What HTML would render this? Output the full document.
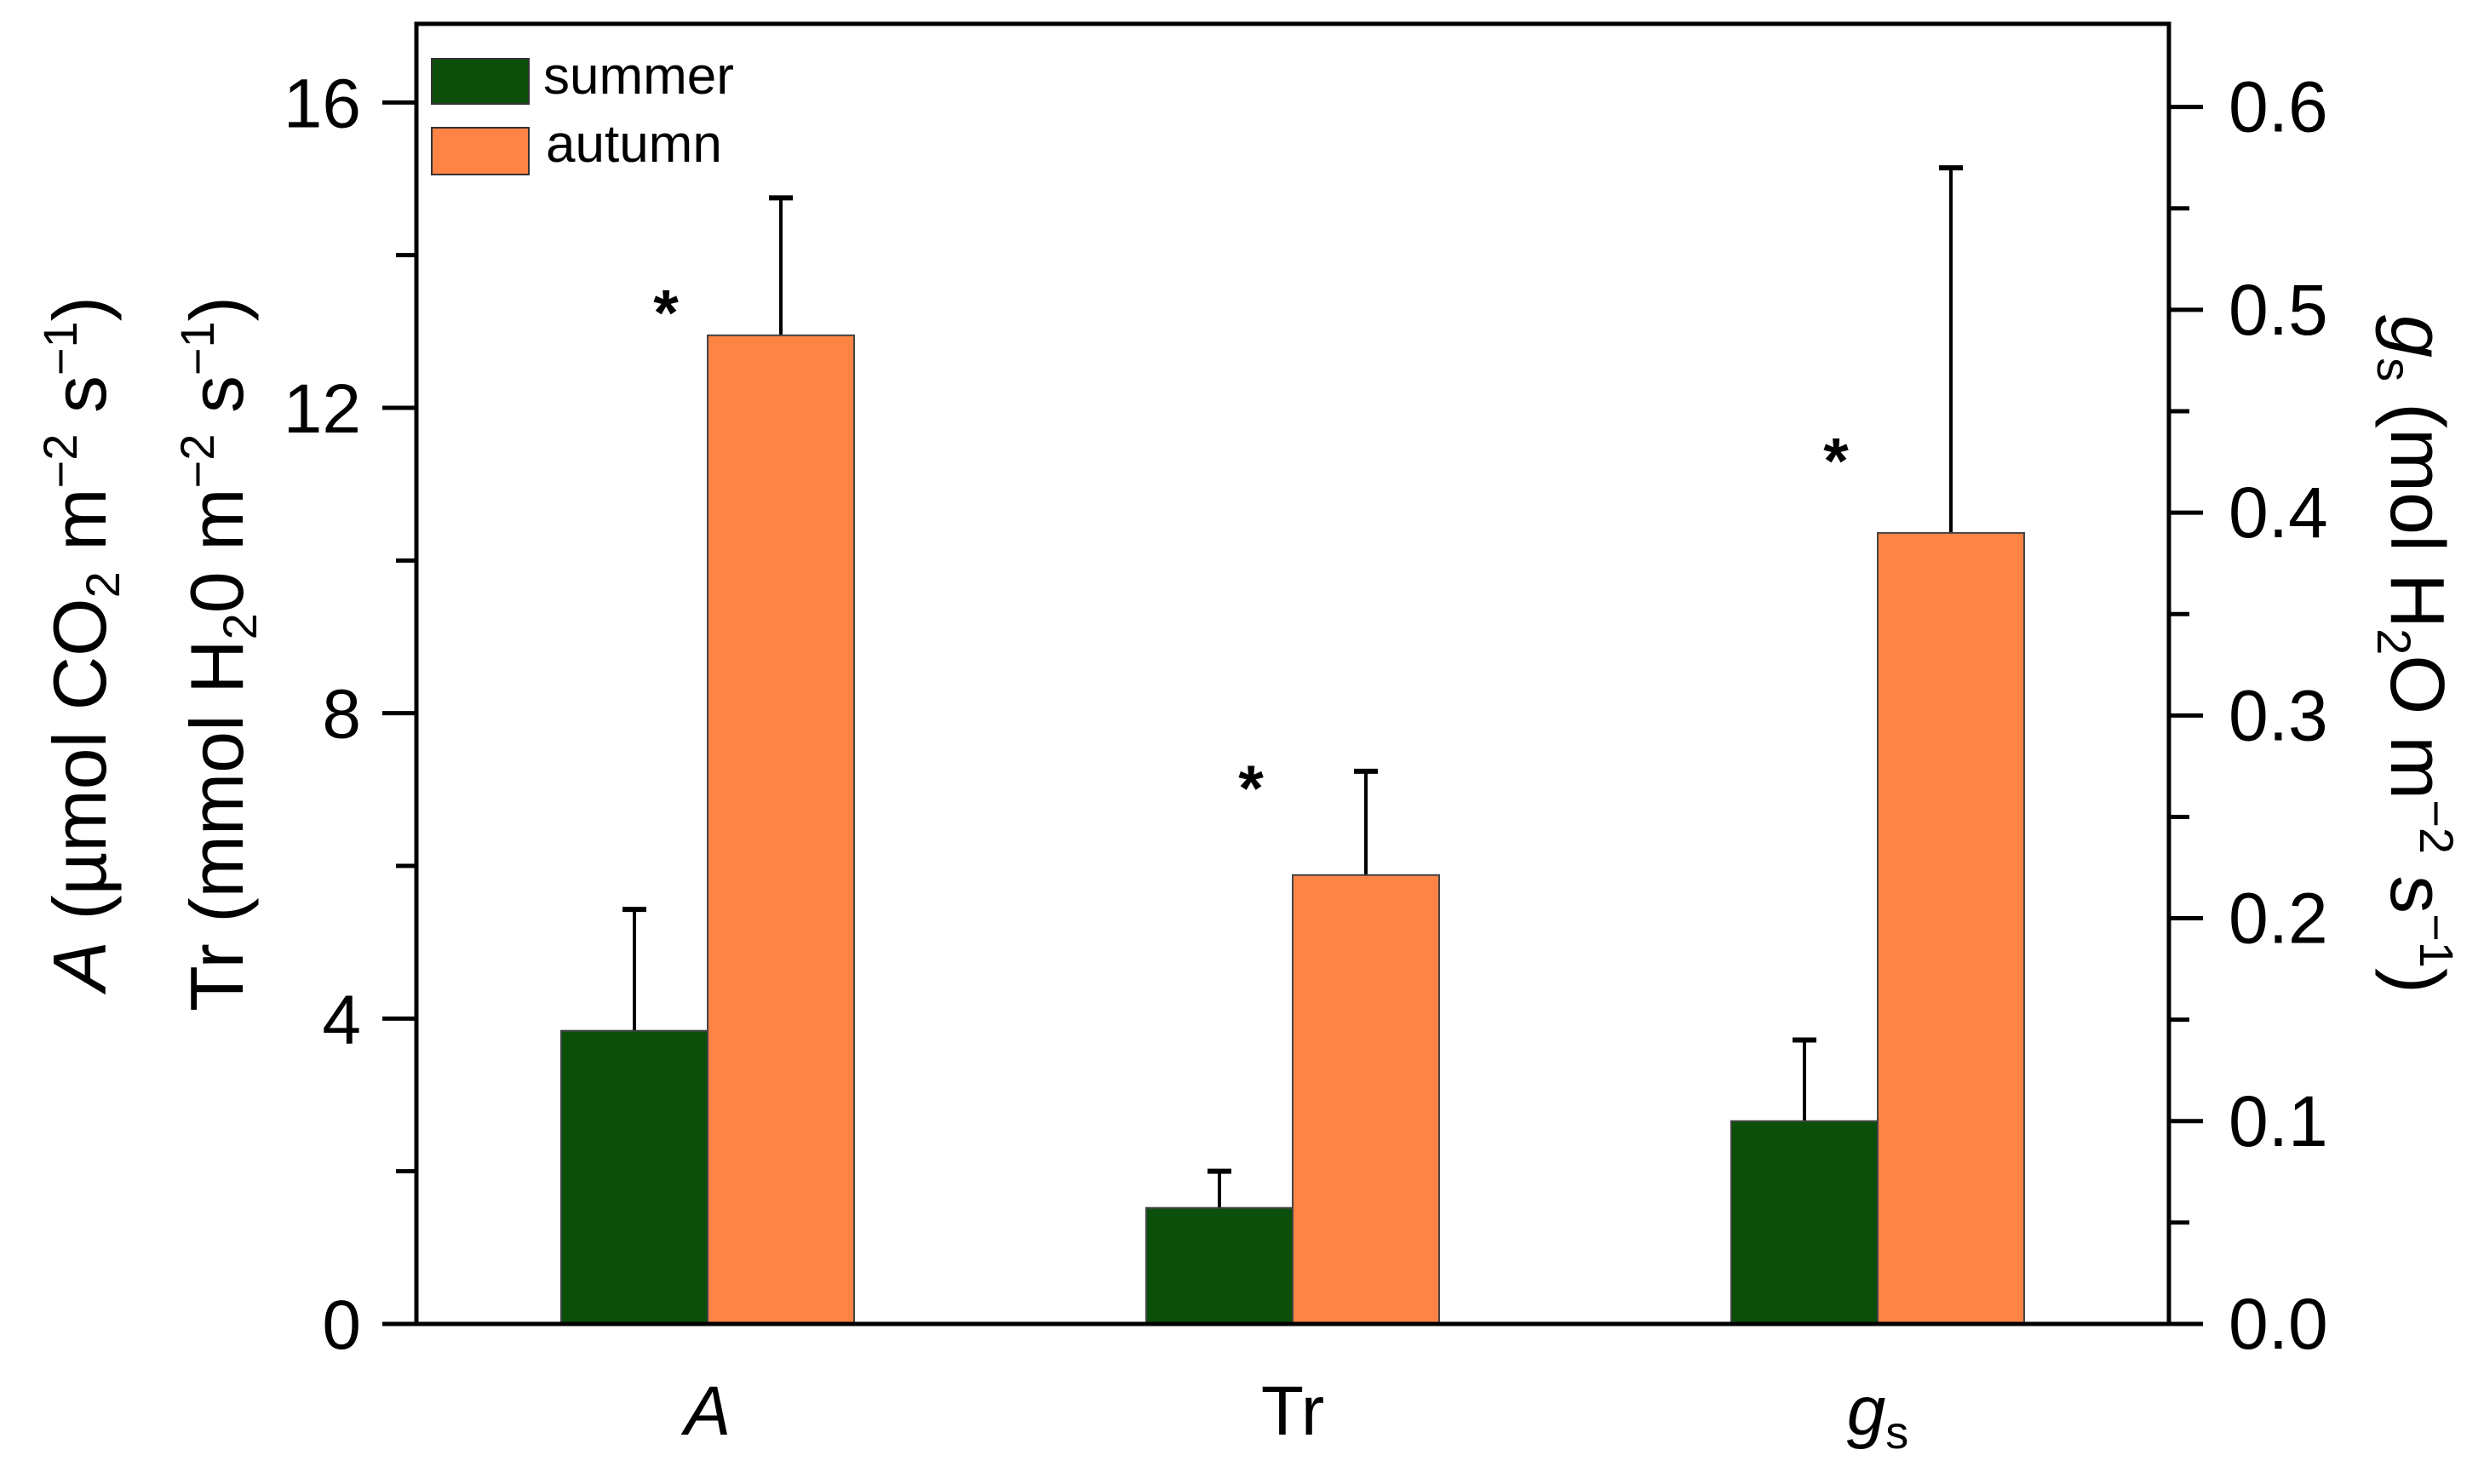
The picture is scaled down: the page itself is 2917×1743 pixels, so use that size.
<!DOCTYPE html>
<html><head><meta charset="utf-8"><style>
html,body{margin:0;padding:0;background:#fff}
svg{display:block}
text{font-family:"Liberation Sans",sans-serif;fill:#000}
</style></head><body>
<svg id="chart" width="2917" height="1743" viewBox="0 0 2917 1743" xmlns="http://www.w3.org/2000/svg">
<g id="marks"></g>
<g id="axes"></g>
<g>
  <rect x="507" y="69" width="114" height="53" fill="#0b4f0b" stroke="#333" stroke-width="2"/>
  <text x="638" y="110" font-size="62">summer</text>
  <rect x="507" y="150" width="114" height="55" fill="#fd8444" stroke="#333" stroke-width="2"/>
  <text x="641" y="190" font-size="62">autumn</text>
</g>
<text transform="translate(124,348) rotate(-90)" text-anchor="end" font-size="88"><tspan font-style="italic">A</tspan> (µmol CO<tspan font-size="56" dy="16">2</tspan><tspan dy="-16"> m</tspan><tspan font-size="56" dy="-34">−2</tspan><tspan dy="34"> s</tspan><tspan font-size="56" dy="-34">−1</tspan><tspan dy="34">)</tspan></text>
<text transform="translate(285,348) rotate(-90)" text-anchor="end" font-size="88">Tr (mmol H<tspan font-size="56" dy="16">2</tspan><tspan dy="-16">0 m</tspan><tspan font-size="56" dy="-34">−2</tspan><tspan dy="34"> s</tspan><tspan font-size="56" dy="-34">−1</tspan><tspan dy="34">)</tspan></text>
<text transform="translate(2808,370) rotate(90)" text-anchor="start" font-size="90"><tspan font-style="italic">g</tspan><tspan font-size="56" dy="16">s</tspan><tspan dy="-16"> (mol H</tspan><tspan font-size="56" dy="16">2</tspan><tspan dy="-16">O m</tspan><tspan font-size="56" dy="-34">−2</tspan><tspan dy="34"> s</tspan><tspan font-size="56" dy="-34">−1</tspan><tspan dy="34">)</tspan></text>
</svg>
<script>
const categories = ["A", "Tr", "gs"];
const summerValues = [3.84, 1.52, 0.10];
const summerErrors = [1.59, 0.48, 0.04];
const autumnValues = [12.95, 5.88, 0.39];
const autumnErrors = [1.80, 1.36, 0.18];
const axisOfCategory = ["left", "left", "right"];
const significant = [true, true, true];
const starLevels = [13.4, 7.17, 11.46];
const leftTicks = [0, 4, 8, 12, 16];
const leftMinorTicks = [2, 6, 10, 14];
const rightTicks = [0.0, 0.1, 0.2, 0.3, 0.4, 0.5, 0.6];
const rightMinorTicks = [0.05, 0.15, 0.25, 0.35, 0.45, 0.55];

const NS = "http://www.w3.org/2000/svg";
const PL = 489, PR = 2547, PT = 28, PB = 1555;
const LMAX = 17.03, RMAX = 0.641;
function yL(v){ return PB - v / LMAX * (PB - PT); }
function yR(v){ return PB - v / RMAX * (PB - PT); }
function yFor(i, v){ return axisOfCategory[i] === "right" ? yR(v) : yL(v); }
const groupStart = 831, groupStep = 687, barW = 172;
function xCenter(i){ return groupStart + i * groupStep; }
function mk(tag, attrs, parent){
  const e = document.createElementNS(NS, tag);
  for (const k in attrs) e.setAttribute(k, attrs[k]);
  parent.appendChild(e);
  return e;
}
const marks = document.getElementById("marks");
const axes = document.getElementById("axes");

function drawBar(i, val, err, left, color, name){
  const yTop = yFor(i, val), yErr = yFor(i, val + err);
  const cx = left + barW / 2;
  const eb = mk("line", {x1: cx, x2: cx, y1: yTop, y2: yErr, stroke: "#000", "stroke-width": 4}, marks);
  
  
  const cap = mk("line", {x1: cx - 14, x2: cx + 14, y1: yErr, y2: yErr, stroke: "#000", "stroke-width": 6}, marks);
  
  
  const r = mk("rect", {x: left, y: yTop, width: barW, height: PB - yTop, fill: color, stroke: "#444", "stroke-width": 2}, marks);
  
  
}
categories.forEach((c, i) => {
  const cx = xCenter(i);
  drawBar(i, summerValues[i], summerErrors[i], cx - barW, "#0b4f0b", "summer-" + c);
  drawBar(i, autumnValues[i], autumnErrors[i], cx, "#fd8444", "autumn-" + c);
  if (significant[i]) {
    const s = mk("text", {x: cx - 49, y: yL(starLevels[i]) + 40, "font-size": 76, "font-weight": "bold", "text-anchor": "middle"}, marks);
    s.textContent = "*";
    
    
  }
  const t = mk("text", {x: cx, y: 1685, "font-size": 82, "text-anchor": "middle"}, axes);
  
  
  if (c === "A") { t.setAttribute("font-style", "italic"); t.textContent = "A"; }
  else if (c === "gs") { t.innerHTML = '<tspan font-style="italic">g</tspan><tspan font-size="54" dy="16">s</tspan>'; }
  else t.textContent = c;
});

const frame = mk("rect", {x: PL, y: PT, width: PR - PL, height: PB - PT, fill: "none", stroke: "#000", "stroke-width": 5}, axes);



leftTicks.forEach(v => {
  const y = yL(v);
  const tk = mk("line", {x1: PL - 40, x2: PL, y1: y, y2: y, stroke: "#000", "stroke-width": 5}, axes);
  
  
  const tl = mk("text", {x: 424, y: y + 29, "font-size": 82, "text-anchor": "end"}, axes);
  tl.textContent = String(v);
  
  
});
leftMinorTicks.forEach(v => {
  const y = yL(v);
  const tk = mk("line", {x1: PL - 24, x2: PL, y1: y, y2: y, stroke: "#000", "stroke-width": 5}, axes);
  
  
});
rightTicks.forEach(v => {
  const y = yR(v);
  const tk = mk("line", {x1: PR, x2: PR + 40, y1: y, y2: y, stroke: "#000", "stroke-width": 5}, axes);
  
  
  const tl = mk("text", {x: 2617, y: y + 29, "font-size": 84}, axes);
  tl.textContent = v.toFixed(1);
  
  
});
rightMinorTicks.forEach(v => {
  const y = yR(v);
  const tk = mk("line", {x1: PR, x2: PR + 24, y1: y, y2: y, stroke: "#000", "stroke-width": 5}, axes);
  
  
});
</script>
</body></html>
